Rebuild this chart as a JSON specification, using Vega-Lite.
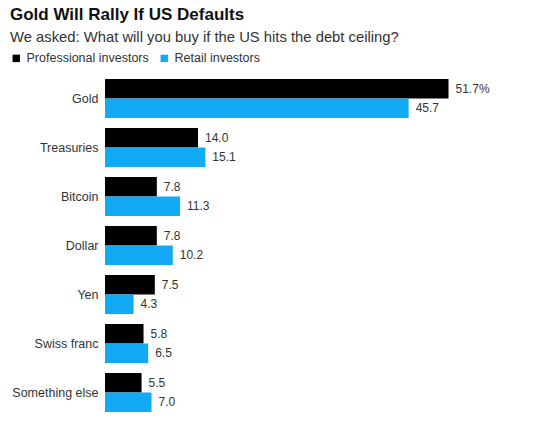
{
  "$schema": "https://vega.github.io/schema/vega-lite/v6.json",
  "width": 400,
  "height": 343,
  "padding": {"left": 10, "top": 6, "right": 5, "bottom": 10},
  "background": "white",
  "title": {
    "text": "Gold Will Rally If US Defaults",
    "subtitle": "We asked: What will you buy if the US hits the debt ceiling?",
    "anchor": "start",
    "frame": "bounds",
    "font": "Liberation Sans",
    "fontSize": 17,
    "fontWeight": "bold",
    "color": "#111111",
    "subtitleFont": "Liberation Sans",
    "subtitleFontSize": 14.8,
    "subtitleColor": "#333333",
    "subtitlePadding": 6,
    "offset": 6
  },
  "data": {
    "values": [
      {"asset": "Gold", "group": "Professional investors", "pct": 51.7, "label": "51.7%"},
      {"asset": "Gold", "group": "Retail investors", "pct": 45.7, "label": "45.7"},
      {"asset": "Treasuries", "group": "Professional investors", "pct": 14.0, "label": "14.0"},
      {"asset": "Treasuries", "group": "Retail investors", "pct": 15.1, "label": "15.1"},
      {"asset": "Bitcoin", "group": "Professional investors", "pct": 7.8, "label": "7.8"},
      {"asset": "Bitcoin", "group": "Retail investors", "pct": 11.3, "label": "11.3"},
      {"asset": "Dollar", "group": "Professional investors", "pct": 7.8, "label": "7.8"},
      {"asset": "Dollar", "group": "Retail investors", "pct": 10.2, "label": "10.2"},
      {"asset": "Yen", "group": "Professional investors", "pct": 7.5, "label": "7.5"},
      {"asset": "Yen", "group": "Retail investors", "pct": 4.3, "label": "4.3"},
      {"asset": "Swiss franc", "group": "Professional investors", "pct": 5.8, "label": "5.8"},
      {"asset": "Swiss franc", "group": "Retail investors", "pct": 6.5, "label": "6.5"},
      {"asset": "Something else", "group": "Professional investors", "pct": 5.5, "label": "5.5"},
      {"asset": "Something else", "group": "Retail investors", "pct": 7.0, "label": "7.0"}
    ]
  },
  "encoding": {
    "y": {
      "field": "asset",
      "type": "nominal",
      "sort": null,
      "scale": {"paddingInner": 0.2, "paddingOuter": 0.1},
      "axis": {
        "title": null,
        "domain": false,
        "ticks": false,
        "labelPadding": 7,
        "labelFont": "Liberation Sans",
        "labelFontSize": 12.5,
        "labelColor": "#333333"
      }
    },
    "yOffset": {"field": "group", "type": "nominal", "sort": ["Professional investors", "Retail investors"]},
    "x": {
      "field": "pct",
      "type": "quantitative",
      "scale": {"domain": [0, 60.2], "nice": false},
      "axis": null
    }
  },
  "layer": [
    {
      "mark": {"type": "bar"},
      "encoding": {
        "color": {
          "field": "group",
          "type": "nominal",
          "scale": {"domain": ["Professional investors", "Retail investors"], "range": ["#000000", "#12a9f5"]},
          "legend": {
            "title": null,
            "orient": "none",
            "direction": "horizontal",
            "legendX": -95,
            "legendY": -22,
            "symbolType": "square",
            "symbolSize": 55,
            "symbolStrokeWidth": 0,
            "labelFont": "Liberation Sans",
            "labelFontSize": 12.5,
            "labelColor": "#333333",
            "labelOffset": 4,
            "columnPadding": 9
          }
        }
      }
    },
    {
      "mark": {"type": "text", "align": "left", "baseline": "middle", "dx": 7, "font": "Liberation Sans", "fontSize": 12, "color": "#333333"},
      "encoding": {
        "text": {"field": "label"}
      }
    }
  ],
  "config": {"view": {"stroke": null}}
}
